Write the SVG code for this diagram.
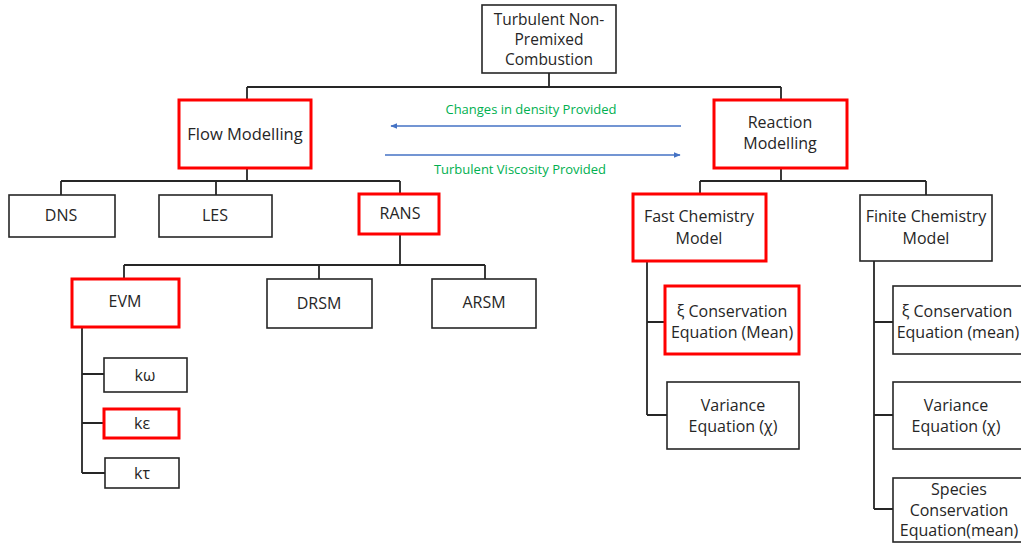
<svg xmlns="http://www.w3.org/2000/svg" width="1021" height="544" viewBox="0 0 1021 544">
<defs>
<style>
.b{fill:#fff;stroke:#262626;stroke-width:1.6}
.r{fill:#fff;stroke:#ff0000;stroke-width:3}
.t{font-family:"Open Sans","Liberation Sans",sans-serif;font-size:16px;fill:#262626;text-anchor:middle}
.s{font-size:15.5px}
.g{font-family:"Open Sans","Liberation Sans",sans-serif;font-size:13px;fill:#00b050;text-anchor:middle}
.c{fill:none;stroke:#262626;stroke-width:1.8}
.a{fill:none;stroke:#4472c4;stroke-width:1.3}
</style>
<marker id="ah" viewBox="0 0 10 10" refX="9" refY="5" markerWidth="7" markerHeight="7" orient="auto-start-reverse" markerUnits="userSpaceOnUse">
<path d="M0,1 L10,5 L0,9 z" fill="#4472c4"/>
</marker>
</defs>
<rect width="1021" height="544" fill="#fff"/>
<g id="connectors">
<path class="c" d="M549,73V87M247,87H781M247,87V100M781,87V100"/>
<path class="c" d="M247,169V181M61,181H400M61,181V195M216,181V195M400,181V194"/>
<path class="c" d="M400,234V265M124,265H485M124,265V279M319,265V279M485,265V279"/>
<path class="c" d="M82,327V473M82,374H104M82,423H104M82,473H105"/>
<path class="c" d="M781,168V181M700,181H926M700,181V194M926,181V195"/>
<path class="c" d="M647,261V415M647,322H665M647,415H667"/>
<path class="c" d="M874,261V509M874,322H893M874,415H893M874,509H893"/>
<path class="a" d="M681,126H391" marker-end="url(#ah)"/>
<path class="a" d="M385,155H680" marker-end="url(#ah)"/>
<text class="g" x="531" y="114">Changes in density Provided</text>
<text class="g" x="520" y="174">Turbulent Viscosity Provided</text>
</g>
<g id="n-top"><rect class="b" x="482" y="5" width="134" height="68"/><text class="t s" x="549" y="24.5">Turbulent Non-</text><text class="t s" x="549" y="44.5">Premixed</text><text class="t s" x="549" y="64.5">Combustion</text></g>
<g id="n-flow"><rect class="r" x="179" y="100" width="132" height="68"/><text class="t" x="245" y="140" style="font-size:16.5px">Flow Modelling</text></g>
<g id="n-reaction"><rect class="r" x="714" y="100" width="133" height="68"/><text class="t" x="780" y="128">Reaction</text><text class="t" x="780" y="149">Modelling</text></g>
<g id="n-dns"><rect class="b" x="9" y="195" width="106" height="42"/><text class="t" x="61" y="221">DNS</text></g>
<g id="n-les"><rect class="b" x="159" y="195" width="113" height="42"/><text class="t" x="215" y="221">LES</text></g>
<g id="n-rans"><rect class="r" x="359" y="194" width="80" height="40"/><text class="t" x="400" y="219">RANS</text></g>
<g id="n-evm"><rect class="r" x="72" y="279" width="107" height="48"/><text class="t" x="125" y="307">EVM</text></g>
<g id="n-drsm"><rect class="b" x="267" y="279" width="105" height="49"/><text class="t" x="319" y="309">DRSM</text></g>
<g id="n-arsm"><rect class="b" x="432" y="279" width="104" height="49"/><text class="t" x="484" y="308">ARSM</text></g>
<g id="n-kw"><rect class="b" x="104" y="358" width="83" height="34"/><text class="t" x="145" y="381">kω</text></g>
<g id="n-ke"><rect class="r" x="104" y="409" width="75" height="29"/><text class="t" x="142" y="429">kε</text></g>
<g id="n-kt"><rect class="b" x="105" y="458" width="74" height="30"/><text class="t" x="142" y="479">kτ</text></g>
<g id="n-fast"><rect class="r" x="633" y="194" width="133" height="67"/><text class="t" x="699" y="222">Fast Chemistry</text><text class="t" x="699" y="244">Model</text></g>
<g id="n-finite"><rect class="b" x="860" y="195" width="132" height="66"/><text class="t" x="926" y="222">Finite Chemistry</text><text class="t" x="926" y="244">Model</text></g>
<g id="n-xi1"><rect class="r" x="665" y="286" width="134" height="68"/><text class="t" x="732" y="317">ξ Conservation</text><text class="t" x="732" y="338">Equation (Mean)</text></g>
<g id="n-var1"><rect class="b" x="667" y="382" width="132" height="67"/><text class="t" x="733" y="411">Variance</text><text class="t" x="733" y="432">Equation (χ)</text></g>
<g id="n-xi2"><rect class="b" x="893" y="286" width="134" height="68"/><text class="t" x="957" y="317">ξ Conservation</text><text class="t" x="958" y="338">Equation (mean)</text></g>
<g id="n-var2"><rect class="b" x="893" y="382" width="134" height="67"/><text class="t" x="956" y="411">Variance</text><text class="t" x="956" y="432">Equation (χ)</text></g>
<g id="n-species"><rect class="b" x="893" y="478" width="134" height="64"/><text class="t" x="959" y="495">Species</text><text class="t" x="959" y="516">Conservation</text><text class="t" x="959" y="536">Equation(mean)</text></g>
</svg>
